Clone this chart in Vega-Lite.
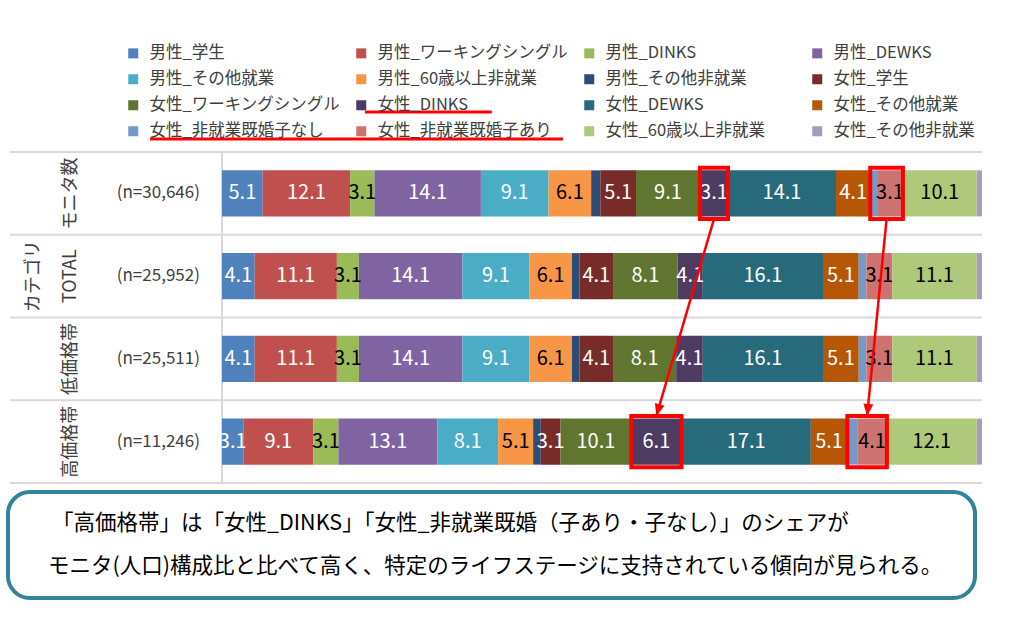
{
  "$schema": "https://vega.github.io/schema/vega-lite/v6.json",
  "description": "Life-stage share by category, 100% stacked bars with annotations.",
  "autosize": {"type": "none"},
  "width": 760,
  "height": 331,
  "padding": {"left": 222, "top": 152, "right": 42, "bottom": 138},
  "background": "white",
  "config": {
    "font": "Noto Sans CJK JP",
    "view": {"stroke": null}
  },
  "datasets": {
    "rows": [
      {"row": "モニタ数", "n": 30646},
      {"row": "TOTAL", "n": 25952},
      {"row": "低価格帯", "n": 25511},
      {"row": "高価格帯", "n": 11246}
    ],
    "shares": [
      {"row": "モニタ数", "cat": "男性_学生", "share": 5.35, "label": 5.1},
      {"row": "モニタ数", "cat": "男性_ワーキングシングル", "share": 11.5, "label": 12.1},
      {"row": "モニタ数", "cat": "男性_DINKS", "share": 3.2, "label": 3.1},
      {"row": "モニタ数", "cat": "男性_DEWKS", "share": 14.0, "label": 14.1},
      {"row": "モニタ数", "cat": "男性_その他就業", "share": 8.9, "label": 9.1},
      {"row": "モニタ数", "cat": "男性_60歳以上非就業", "share": 5.6, "label": 6.1},
      {"row": "モニタ数", "cat": "男性_その他非就業", "share": 1.2, "label": null},
      {"row": "モニタ数", "cat": "女性_学生", "share": 4.7, "label": 5.1},
      {"row": "モニタ数", "cat": "女性_ワーキングシングル", "share": 8.4, "label": 9.1},
      {"row": "モニタ数", "cat": "女性_DINKS", "share": 3.7, "label": 3.1},
      {"row": "モニタ数", "cat": "女性_DEWKS", "share": 14.2, "label": 14.1},
      {"row": "モニタ数", "cat": "女性_その他就業", "share": 4.5, "label": 4.1},
      {"row": "モニタ数", "cat": "女性_非就業既婚子なし", "share": 0.9, "label": null},
      {"row": "モニタ数", "cat": "女性_非就業既婚子あり", "share": 3.4, "label": 3.1},
      {"row": "モニタ数", "cat": "女性_60歳以上非就業", "share": 9.7, "label": 10.1},
      {"row": "モニタ数", "cat": "女性_その他非就業", "share": 0.7, "label": null},
      {"row": "TOTAL", "cat": "男性_学生", "share": 4.3, "label": 4.1},
      {"row": "TOTAL", "cat": "男性_ワーキングシングル", "share": 10.8, "label": 11.1},
      {"row": "TOTAL", "cat": "男性_DINKS", "share": 2.9, "label": 3.1},
      {"row": "TOTAL", "cat": "男性_DEWKS", "share": 13.6, "label": 14.1},
      {"row": "TOTAL", "cat": "男性_その他就業", "share": 8.8, "label": 9.1},
      {"row": "TOTAL", "cat": "男性_60歳以上非就業", "share": 5.6, "label": 6.1},
      {"row": "TOTAL", "cat": "男性_その他非就業", "share": 1.0, "label": null},
      {"row": "TOTAL", "cat": "女性_学生", "share": 4.4, "label": 4.1},
      {"row": "TOTAL", "cat": "女性_ワーキングシングル", "share": 8.5, "label": 8.1},
      {"row": "TOTAL", "cat": "女性_DINKS", "share": 3.3, "label": 4.1},
      {"row": "TOTAL", "cat": "女性_DEWKS", "share": 15.8, "label": 16.1},
      {"row": "TOTAL", "cat": "女性_その他就業", "share": 4.7, "label": 5.1},
      {"row": "TOTAL", "cat": "女性_非就業既婚子なし", "share": 1.0, "label": null},
      {"row": "TOTAL", "cat": "女性_非就業既婚子あり", "share": 3.4, "label": 3.1},
      {"row": "TOTAL", "cat": "女性_60歳以上非就業", "share": 11.1, "label": 11.1},
      {"row": "TOTAL", "cat": "女性_その他非就業", "share": 0.7, "label": null},
      {"row": "低価格帯", "cat": "男性_学生", "share": 4.3, "label": 4.1},
      {"row": "低価格帯", "cat": "男性_ワーキングシングル", "share": 10.8, "label": 11.1},
      {"row": "低価格帯", "cat": "男性_DINKS", "share": 2.9, "label": 3.1},
      {"row": "低価格帯", "cat": "男性_DEWKS", "share": 13.6, "label": 14.1},
      {"row": "低価格帯", "cat": "男性_その他就業", "share": 8.8, "label": 9.1},
      {"row": "低価格帯", "cat": "男性_60歳以上非就業", "share": 5.6, "label": 6.1},
      {"row": "低価格帯", "cat": "男性_その他非就業", "share": 1.0, "label": null},
      {"row": "低価格帯", "cat": "女性_学生", "share": 4.4, "label": 4.1},
      {"row": "低価格帯", "cat": "女性_ワーキングシングル", "share": 8.3, "label": 8.1},
      {"row": "低価格帯", "cat": "女性_DINKS", "share": 3.5, "label": 4.1},
      {"row": "低価格帯", "cat": "女性_DEWKS", "share": 15.8, "label": 16.1},
      {"row": "低価格帯", "cat": "女性_その他就業", "share": 4.7, "label": 5.1},
      {"row": "低価格帯", "cat": "女性_非就業既婚子なし", "share": 1.0, "label": null},
      {"row": "低価格帯", "cat": "女性_非就業既婚子あり", "share": 3.4, "label": 3.1},
      {"row": "低価格帯", "cat": "女性_60歳以上非就業", "share": 11.1, "label": 11.1},
      {"row": "低価格帯", "cat": "女性_その他非就業", "share": 0.7, "label": null},
      {"row": "高価格帯", "cat": "男性_学生", "share": 2.8, "label": 3.1},
      {"row": "高価格帯", "cat": "男性_ワーキングシングル", "share": 9.2, "label": 9.1},
      {"row": "高価格帯", "cat": "男性_DINKS", "share": 3.3, "label": 3.1},
      {"row": "高価格帯", "cat": "男性_DEWKS", "share": 13.0, "label": 13.1},
      {"row": "高価格帯", "cat": "男性_その他就業", "share": 8.0, "label": 8.1},
      {"row": "高価格帯", "cat": "男性_60歳以上非就業", "share": 4.6, "label": 5.1},
      {"row": "高価格帯", "cat": "男性_その他非就業", "share": 1.0, "label": null},
      {"row": "高価格帯", "cat": "女性_学生", "share": 2.6, "label": 3.1},
      {"row": "高価格帯", "cat": "女性_ワーキングシングル", "share": 9.3, "label": 10.1},
      {"row": "高価格帯", "cat": "女性_DINKS", "share": 6.6, "label": 6.1},
      {"row": "高価格帯", "cat": "女性_DEWKS", "share": 17.0, "label": 17.1},
      {"row": "高価格帯", "cat": "女性_その他就業", "share": 4.8, "label": 5.1},
      {"row": "高価格帯", "cat": "女性_非就業既婚子なし", "share": 1.3, "label": null},
      {"row": "高価格帯", "cat": "女性_非就業既婚子あり", "share": 3.9, "label": 4.1},
      {"row": "高価格帯", "cat": "女性_60歳以上非就業", "share": 11.8, "label": 12.1},
      {"row": "高価格帯", "cat": "女性_その他非就業", "share": 0.7, "label": null}
    ]
  },
  "layer": [
    {
      "data": {"name": "rows"},
      "mark": {"type": "rule", "color": "#D9D9D9", "strokeWidth": 2},
      "encoding": {
        "x": {"datum": -0.279, "type": "quantitative", "scale": {"domain": [0, 1], "nice": false, "zero": false}, "axis": null},
        "x2": {"datum": 1},
        "y": {
          "field": "row", "type": "nominal", "bandPosition": 0,
          "scale": {"domain": ["モニタ数", "TOTAL", "低価格帯", "高価格帯"], "paddingInner": 0, "paddingOuter": 0},
          "axis": null
        }
      }
    },
    {
      "data": {"values": [{}]},
      "mark": {"type": "rule", "color": "#D9D9D9", "strokeWidth": 2},
      "encoding": {
        "x": {"datum": -0.279, "type": "quantitative"},
        "x2": {"datum": 1},
        "y": {"datum": "高価格帯", "type": "nominal", "bandPosition": 1}
      }
    },
    {
      "data": {"values": [{}]},
      "mark": {"type": "rule", "color": "#D9D9D9", "strokeWidth": 2},
      "encoding": {"x": {"datum": 0, "type": "quantitative"}}
    },
    {
      "data": {"name": "shares"},
      "transform": [
        {"window": [{"op": "row_number", "as": "k"}], "groupby": ["row"]},
        {"stack": "share", "groupby": ["row"], "sort": [{"field": "k", "order": "ascending"}], "offset": "normalize", "as": ["x0", "x1"]},
        {"calculate": "(datum.x0 + datum.x1) / 2", "as": "xm"}
      ],
      "layer": [
        {
          "mark": {"type": "bar", "height": {"band": 0.556}},
          "encoding": {
            "x": {"field": "x0", "type": "quantitative", "scale": {"domain": [0, 1], "nice": false, "zero": false}, "axis": null},
            "x2": {"field": "x1"},
            "y": {"field": "row", "type": "nominal", "scale": {"domain": ["モニタ数", "TOTAL", "低価格帯", "高価格帯"], "paddingInner": 0, "paddingOuter": 0}, "axis": null},
            "color": {
              "field": "cat",
              "type": "nominal",
              "scale": {
                "domain": ["男性_学生", "男性_ワーキングシングル", "男性_DINKS", "男性_DEWKS", "男性_その他就業", "男性_60歳以上非就業", "男性_その他非就業", "女性_学生", "女性_ワーキングシングル", "女性_DINKS", "女性_DEWKS", "女性_その他就業", "女性_非就業既婚子なし", "女性_非就業既婚子あり", "女性_60歳以上非就業", "女性_その他非就業"],
                "range": ["#4F81BD", "#C0504D", "#9BBB59", "#8064A2", "#4BACC6", "#F79646", "#2C4D75", "#772C2A", "#5F7530", "#4D3B62", "#276A7C", "#B65708", "#729ACA", "#CD7371", "#AFC97A", "#A99BBD"]
              },
              "legend": {
                "title": null,
                "orient": "none",
                "direction": "horizontal",
                "legendX": -97,
                "legendY": -107,
                "columns": 4,
                "gridAlign": "all",
                "columnPadding": 12,
                "rowPadding": 9,
                "symbolType": "square",
                "symbolSize": 100,
                "symbolStrokeWidth": 0,
                "labelFontSize": 16.5,
                "labelColor": "#404040",
                "labelOffset": 8,
                "labelLimit": 300
              }
            }
          }
        },
        {
          "transform": [{"filter": "isValid(datum.label)"}],
          "mark": {"type": "text", "align": "center", "baseline": "middle", "fontSize": 20, "clip": true},
          "encoding": {
            "x": {"field": "xm", "type": "quantitative"},
            "y": {"field": "row", "type": "nominal"},
            "text": {"field": "label", "type": "quantitative", "format": ".1f"},
            "color": {
              "condition": {"test": "indexof(['男性_DINKS', '男性_60歳以上非就業', '女性_非就業既婚子あり', '女性_60歳以上非就業'], datum.cat) >= 0", "value": "#000000"},
              "value": "#FFFFFF"
            }
          }
        },
        {
          "transform": [
            {"filter": {"field": "cat", "oneOf": ["女性_DINKS", "女性_非就業既婚子なし", "女性_非就業既婚子あり"]}},
            {"filter": {"field": "row", "oneOf": ["モニタ数", "高価格帯"]}},
            {"calculate": "datum.cat == '女性_DINKS' ? 'a' : 'b'", "as": "grp"},
            {"aggregate": [{"op": "min", "field": "x0", "as": "b0"}, {"op": "max", "field": "x1", "as": "b1"}], "groupby": ["row", "grp"]}
          ],
          "mark": {"type": "bar", "height": {"band": 0.62}, "fillOpacity": 0, "stroke": "#FF0000", "strokeWidth": 4},
          "encoding": {
            "x": {"field": "b0", "type": "quantitative"},
            "x2": {"field": "b1"},
            "y": {"field": "row", "type": "nominal"}
          }
        },
        {
          "transform": [
            {"filter": {"field": "cat", "oneOf": ["女性_DINKS", "女性_非就業既婚子なし", "女性_非就業既婚子あり"]}},
            {"filter": {"field": "row", "oneOf": ["モニタ数", "高価格帯"]}},
            {"calculate": "datum.cat == '女性_DINKS' ? 'a' : 'b'", "as": "grp"},
            {"aggregate": [{"op": "min", "field": "x0", "as": "b0"}, {"op": "max", "field": "x1", "as": "b1"}], "groupby": ["row", "grp"]},
            {"calculate": "(datum.b0 + datum.b1) / 2", "as": "bm"},
            {"pivot": "row", "value": "bm", "groupby": ["grp"]},
            {"calculate": "'モニタ数'", "as": "r1"},
            {"calculate": "'高価格帯'", "as": "r4"}
          ],
          "layer": [
            {
              "mark": {"type": "rule", "color": "#FF0000", "strokeWidth": 2.5},
              "encoding": {
                "x": {"field": "モニタ数", "type": "quantitative"},
                "x2": {"field": "高価格帯"},
                "y": {"field": "r1", "type": "nominal", "bandPosition": 0.81},
                "y2": {"field": "r4", "bandPosition": 0.19}
              }
            },
            {
              "mark": {"type": "point", "shape": "M0,0L-0.5,-1.2L0.5,-1.2Z", "filled": true, "color": "#FF0000", "opacity": 1, "size": 400, "strokeWidth": 0},
              "encoding": {
                "x": {"field": "高価格帯", "type": "quantitative"},
                "y": {"field": "r4", "type": "nominal", "bandPosition": 0.19},
                "angle": {"condition": {"test": "datum.grp == 'a'", "value": 16}, "value": 6}
              }
            }
          ]
        }
      ]
    },
    {
      "data": {"name": "rows"},
      "transform": [{"calculate": "'(n=' + format(datum.n, ',') + ')'", "as": "nl"}],
      "mark": {"type": "text", "align": "right", "baseline": "middle", "fontSize": 17, "color": "#404040"},
      "encoding": {
        "x": {"datum": -0.029, "type": "quantitative"},
        "y": {"field": "row", "type": "nominal"},
        "text": {"field": "nl"}
      }
    },
    {
      "data": {"name": "rows"},
      "mark": {"type": "text", "align": "center", "baseline": "middle", "angle": 270, "fontSize": 18, "color": "#404040"},
      "encoding": {
        "x": {"datum": -0.1987, "type": "quantitative"},
        "y": {"field": "row", "type": "nominal"},
        "text": {"field": "row"}
      }
    },
    {
      "data": {"values": [{}]},
      "mark": {"type": "text", "align": "center", "baseline": "middle", "angle": 270, "fontSize": 18, "color": "#404040"},
      "encoding": {
        "x": {"datum": -0.248, "type": "quantitative"},
        "y": {"datum": "TOTAL", "type": "nominal"},
        "text": {"value": "カテゴリ"}
      }
    },
    {
      "data": {"values": [{}]},
      "mark": {"type": "rule", "color": "#FF0000", "strokeWidth": 3},
      "encoding": {
        "x": {"datum": 0.188, "type": "quantitative"},
        "x2": {"datum": 0.355},
        "y": {"datum": "モニタ数", "type": "nominal", "bandPosition": -0.483}
      }
    },
    {
      "data": {"values": [{}]},
      "mark": {"type": "rule", "color": "#FF0000", "strokeWidth": 3},
      "encoding": {
        "x": {"datum": -0.0947, "type": "quantitative"},
        "x2": {"datum": 0.4487},
        "y": {"datum": "モニタ数", "type": "nominal", "bandPosition": -0.157}
      }
    },
    {
      "data": {"values": [{}]},
      "mark": {"type": "rect", "cornerRadius": 22, "fill": "#FFFFFF", "stroke": "#31849B", "strokeWidth": 4},
      "encoding": {
        "x": {"datum": -0.2816, "type": "quantitative"},
        "x2": {"datum": 0.9908},
        "y": {"datum": "高価格帯", "type": "nominal", "bandPosition": 1.109},
        "y2": {"datum": "高価格帯", "bandPosition": 2.39}
      }
    },
    {
      "data": {"values": [{}]},
      "mark": {"type": "text", "align": "left", "baseline": "middle", "fontSize": 21.5, "color": "#000000"},
      "encoding": {
        "x": {"datum": -0.2237, "type": "quantitative"},
        "y": {"datum": "高価格帯", "type": "nominal", "bandPosition": 1.4955},
        "text": {"value": "「高価格帯」は「女性_DINKS」「女性_非就業既婚（子あり・子なし）」のシェアが"}
      }
    },
    {
      "data": {"values": [{}]},
      "mark": {"type": "text", "align": "left", "baseline": "middle", "fontSize": 21.5, "color": "#000000"},
      "encoding": {
        "x": {"datum": -0.2289, "type": "quantitative"},
        "y": {"datum": "高価格帯", "type": "nominal", "bandPosition": 2.015},
        "text": {"value": "モニタ(人口)構成比と比べて高く、特定のライフステージに支持されている傾向が見られる。"}
      }
    }
  ]
}
